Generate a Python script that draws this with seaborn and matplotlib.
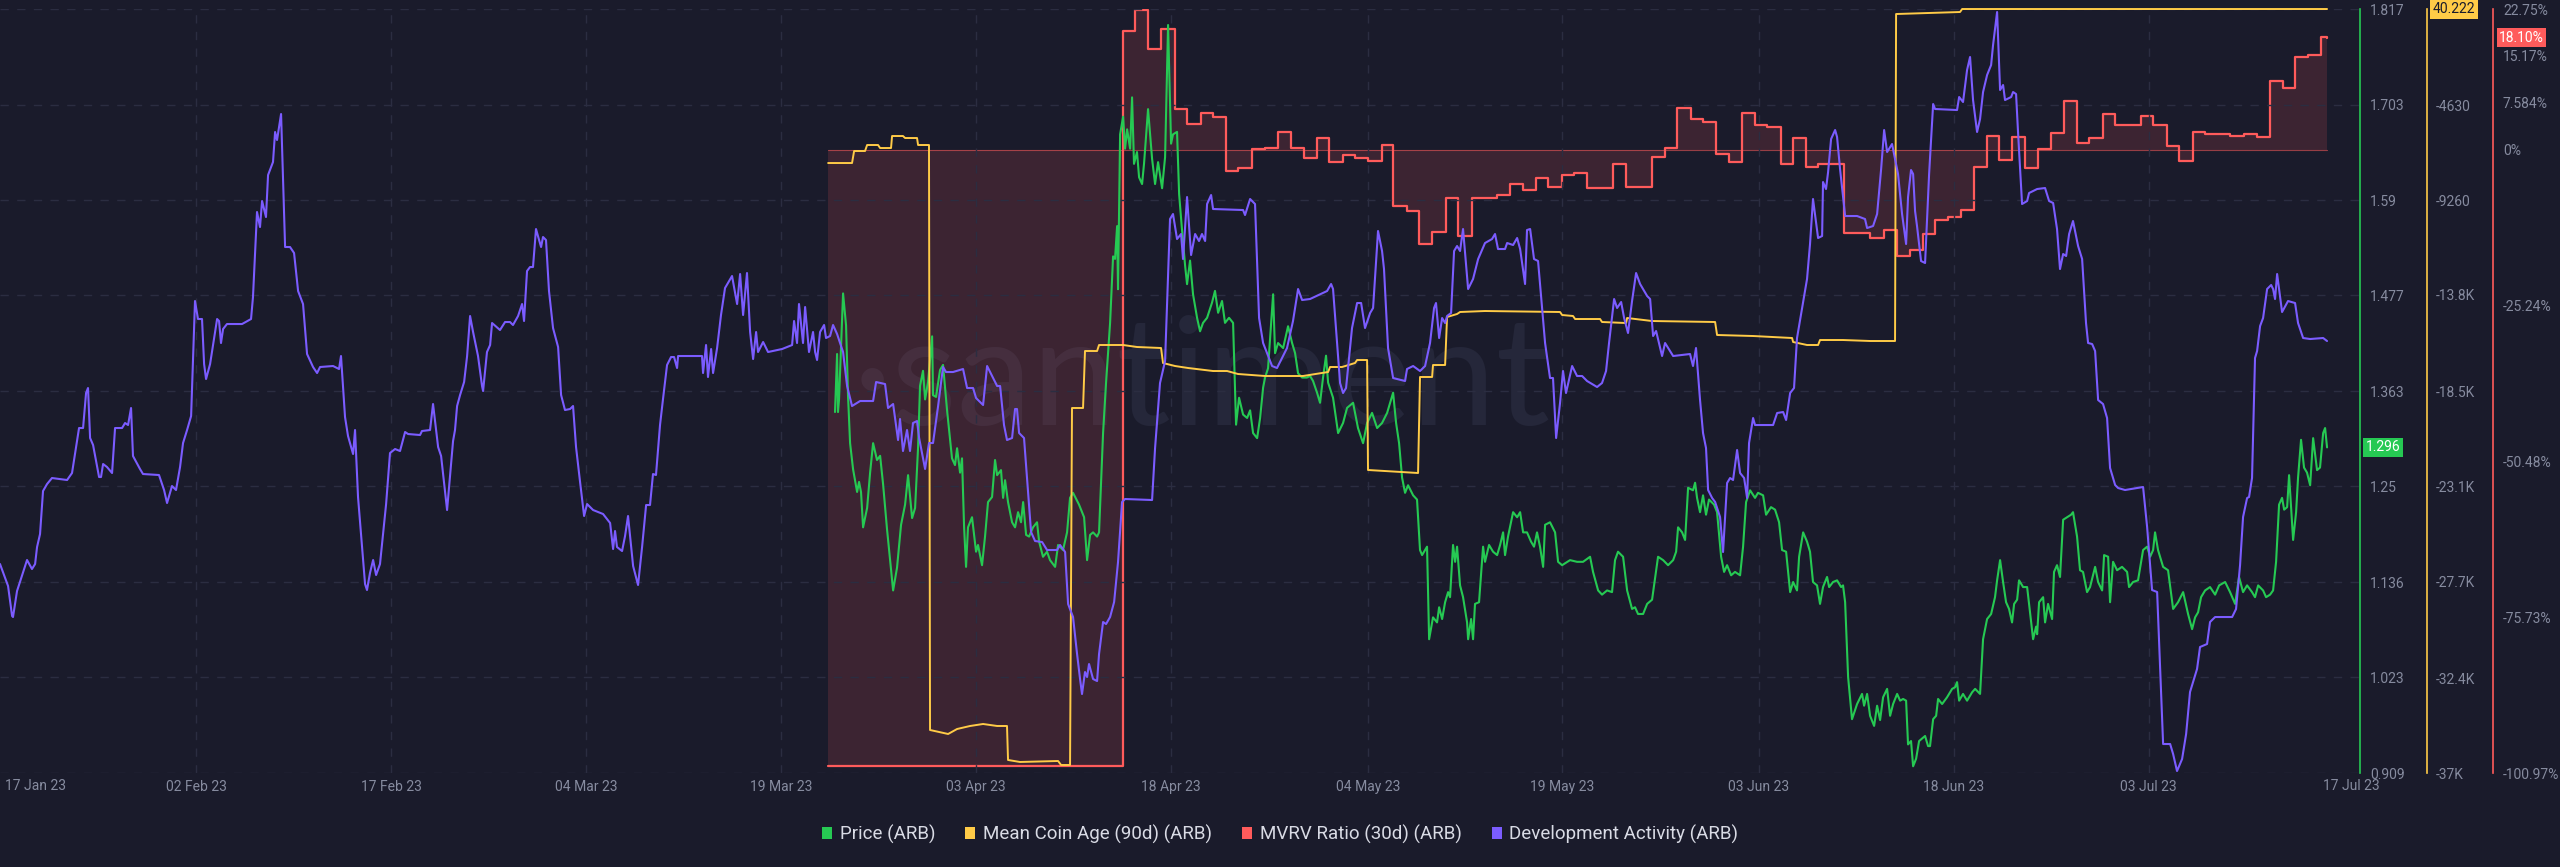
import pandas as pd
import numpy as np
import matplotlib
matplotlib.use('Agg')
import matplotlib.pyplot as plt
import matplotlib.dates as mdates
from matplotlib.patches import Patch
import seaborn as sns

# day offsets are days after 17 Jan 2023
start = pd.Timestamp('2023-01-17')

# Development Activity (ARB)
dev_pts = [
    (0.92, 20.9), (1.54, 18.7), (1.85, 15.7), (1.92, 15.6), (2.23, 18.2), (3.0, 21.3), (3.38, 20.4),
    (3.62, 20.9), (3.77, 22.6), (4.0, 23.9), (4.23, 28.2), (4.54, 28.9), (4.92, 29.5), (6.08, 29.3),
    (6.46, 30.0), (7.0, 34.5), (7.31, 34.5), (7.54, 38.0), (7.69, 38.5), (7.85, 33.5), (8.08, 32.8),
    (8.54, 29.6), (8.69, 29.6), (8.85, 30.9), (9.15, 30.6), (9.54, 30.0), (9.77, 34.5), (10.31, 34.5),
    (10.54, 35.0), (10.77, 34.8), (11.0, 36.5), (11.15, 31.7), (11.69, 30.4), (11.92, 29.9), (13.15, 29.8),
    (13.54, 28.3), (13.77, 27.0), (14.15, 28.7), (14.46, 28.3), (14.77, 30.6), (15.0, 33.0), (15.31, 34.3),
    (15.62, 35.7), (15.92, 47.2), (16.15, 45.4), (16.46, 45.4), (16.62, 40.9), (16.77, 39.4), (17.08, 40.9),
    (17.62, 45.4), (17.77, 45.2), (17.92, 43.0), (18.08, 44.4), (18.38, 44.9), (19.54, 44.9), (20.23, 45.4),
    (20.38, 47.6), (20.69, 56.1), (20.92, 54.6), (21.08, 57.2), (21.38, 55.6), (21.54, 59.8), (21.92, 61.1),
    (22.08, 64.1), (22.23, 63.3), (22.54, 65.9), (22.85, 52.6), (23.23, 52.6), (23.54, 52.0), (23.85, 48.2),
    (24.23, 46.9), (24.54, 41.9), (25.0, 40.6), (25.31, 40.0), (25.54, 40.6), (26.54, 40.7), (27.0, 40.4),
    (27.15, 41.7), (27.46, 35.6), (27.69, 33.7), (28.08, 31.9), (28.23, 34.3), (28.46, 27.6), (29.0, 18.9),
    (29.15, 18.3), (29.38, 20.0), (29.62, 21.3), (29.85, 19.8), (30.15, 20.9), (30.62, 26.9), (30.92, 32.0),
    (31.31, 32.4), (31.69, 32.2), (32.08, 34.1), (32.31, 33.9), (33.23, 33.8), (33.38, 34.2), (34.0, 34.3),
    (34.23, 36.9), (34.62, 32.6), (34.85, 31.7), (35.31, 26.3), (35.77, 33.2), (35.92, 34.3), (36.08, 36.7),
    (36.31, 37.8), (36.62, 39.1), (36.85, 41.7), (37.08, 45.7), (37.31, 44.1), (37.69, 41.7), (38.0, 38.7),
    (38.08, 38.2), (38.38, 42.1), (38.62, 42.8), (38.77, 45.0), (39.38, 44.3), (39.77, 45.1), (40.15, 45.1),
    (40.38, 44.8), (40.77, 45.7), (41.08, 46.9), (41.23, 45.2), (41.46, 50.2), (41.69, 50.6), (41.92, 50.6),
    (42.15, 54.4), (42.54, 52.6), (42.69, 53.6), (42.92, 53.3), (43.15, 48.2), (43.46, 44.5), (43.85, 42.6),
    (44.08, 37.8), (44.38, 36.3), (44.77, 36.4), (45.0, 36.7), (45.23, 32.6), (45.54, 29.1), (45.85, 25.7),
    (46.08, 26.9), (46.54, 26.3), (47.31, 25.9), (47.85, 25.0), (48.08, 22.4), (48.23, 24.2), (48.38, 22.6),
    (48.77, 22.2), (49.0, 23.7), (49.23, 25.7), (49.62, 20.7), (50.0, 18.8), (50.31, 22.6), (50.62, 26.8),
    (50.92, 26.8), (51.15, 29.9), (51.38, 29.8), (51.69, 34.8), (51.92, 37.4), (52.23, 40.8), (52.54, 41.6),
    (52.77, 41.6), (53.0, 40.5), (53.08, 41.7), (54.92, 41.7), (55.0, 40.0), (55.23, 42.8), (55.38, 39.6),
    (55.62, 42.4), (55.77, 40.0), (56.08, 42.5), (56.38, 45.8), (56.69, 48.5), (57.23, 49.7), (57.62, 46.9),
    (57.85, 49.9), (58.08, 45.8), (58.38, 50.0), (58.62, 44.1), (58.85, 41.4), (59.08, 44.1), (59.23, 42.1),
    (59.62, 43.1), (60.0, 42.1), (61.08, 42.4), (61.85, 42.8), (62.0, 45.2), (62.23, 43.0), (62.38, 46.9),
    (62.69, 43.0), (62.85, 46.6), (63.15, 42.1), (63.46, 44.1), (63.62, 42.1), (63.77, 41.3), (64.0, 44.1),
    (64.31, 44.8), (64.46, 43.5), (64.77, 43.7), (65.0, 44.8), (65.31, 43.9), (65.77, 42.1), (66.08, 38.7),
    (66.46, 36.7), (67.08, 37.2), (68.08, 37.2), (68.31, 39.1), (69.0, 38.9), (69.23, 36.5), (69.62, 36.9),
    (70.0, 33.3), (70.15, 35.4), (70.38, 32.2), (70.69, 34.3), (70.92, 32.2), (71.15, 35.0), (71.46, 35.2),
    (71.62, 33.5), (72.08, 30.4), (72.38, 33.0), (72.69, 33.0), (73.08, 36.7), (73.46, 40.6), (73.69, 40.1),
    (74.23, 40.1), (75.0, 40.4), (75.31, 38.5), (75.77, 38.5), (76.0, 37.5), (76.54, 36.8), (76.85, 40.7),
    (77.31, 39.5), (77.62, 38.7), (77.85, 38.7), (78.15, 34.8), (78.38, 33.3), (78.77, 33.5), (79.0, 36.4),
    (79.15, 36.4), (79.31, 34.0), (79.69, 33.5), (79.92, 29.5), (80.23, 24.1), (80.54, 23.2), (81.08, 23.1),
    (81.46, 22.3), (82.23, 22.3), (82.46, 22.8), (82.85, 22.1), (83.08, 16.9), (83.46, 15.6), (83.77, 11.9),
    (84.0, 9.4), (84.15, 7.9), (84.38, 10.1), (84.54, 9.6), (84.69, 10.9), (85.0, 9.4), (85.31, 9.2),
    (85.46, 11.9), (85.77, 15.1), (86.0, 14.9), (86.31, 15.6), (86.62, 17.1), (86.92, 21.1), (87.23, 27.1),
    (87.46, 27.4), (89.54, 27.3), (89.77, 32.5), (90.15, 39.0), (90.54, 41.2), (90.92, 55.4), (91.15, 55.9),
    (91.46, 53.4), (91.77, 53.9), (91.92, 51.4), (92.23, 57.6), (92.54, 51.8), (92.85, 53.9), (93.15, 53.2),
    (93.38, 53.9), (93.62, 53.2), (93.77, 56.9), (94.08, 57.8), (94.23, 56.4), (96.54, 56.3), (96.69, 55.8),
    (97.08, 57.4), (97.46, 56.9), (97.77, 45.5), (98.08, 43.0), (98.77, 40.7), (99.15, 40.5), (99.92, 42.5),
    (100.38, 45.2), (100.77, 48.4), (101.08, 47.3), (101.69, 47.4), (103.0, 48.2), (103.31, 48.9),
    (103.46, 48.4), (104.0, 39.0), (104.23, 38.0), (104.46, 38.5), (104.92, 44.5), (105.31, 47.0),
    (105.62, 47.0), (105.92, 44.5), (106.31, 46.0), (106.54, 46.5), (106.92, 54.2), (107.23, 52.2),
    (107.38, 50.4), (107.69, 42.5), (108.08, 39.5), (109.0, 39.2), (109.15, 40.4), (109.62, 40.7),
    (110.15, 40.2), (110.54, 40.7), (110.92, 43.0), (111.23, 46.5), (111.38, 47.0), (111.62, 43.5),
    (111.85, 45.5), (112.08, 45.0), (112.23, 45.7), (112.54, 46.0), (112.77, 52.2), (113.0, 52.7),
    (113.23, 52.2), (113.46, 54.4), (113.85, 48.4), (114.23, 49.4), (114.62, 51.4), (115.15, 53.0),
    (115.69, 53.4), (115.92, 53.9), (116.15, 52.4), (116.69, 52.4), (116.85, 53.0), (117.31, 52.8),
    (117.62, 53.5), (117.85, 52.4), (118.23, 48.9), (118.38, 54.3), (118.62, 54.4), (118.92, 51.4),
    (119.23, 51.2), (119.77, 43.0), (120.15, 39.5), (120.38, 39.5), (120.62, 33.5), (120.92, 37.0),
    (121.15, 40.2), (121.38, 38.0), (121.85, 40.7), (122.23, 39.7), (122.62, 39.7), (123.0, 39.2),
    (123.77, 38.6), (124.15, 39.0), (124.46, 40.2), (124.69, 43.0), (125.08, 47.4), (125.31, 46.5),
    (125.62, 47.1), (125.85, 45.5), (126.15, 44.0), (126.46, 47.2), (126.77, 50.0), (127.08, 48.9),
    (127.62, 47.7), (127.85, 47.4), (128.08, 43.7), (128.31, 44.2), (128.77, 41.7), (129.0, 43.0),
    (129.62, 41.7), (130.92, 41.9), (131.15, 40.7), (131.38, 42.5), (131.69, 37.3), (131.92, 34.0),
    (132.15, 32.5), (132.31, 28.3), (132.62, 27.5), (132.85, 27.1), (133.23, 25.6), (133.46, 22.1),
    (133.77, 29.0), (134.0, 29.5), (134.23, 29.3), (134.54, 32.3), (134.77, 30.0), (135.08, 29.5),
    (135.31, 27.5), (135.46, 33.0), (135.77, 35.5), (135.92, 34.8), (137.31, 34.8), (137.62, 36.0),
    (138.08, 36.1), (138.31, 35.3), (138.62, 38.0), (138.92, 38.5), (139.15, 43.5), (139.54, 46.5),
    (139.92, 49.4), (140.15, 52.9), (140.38, 57.4), (140.77, 53.5), (141.08, 53.7), (141.15, 59.1),
    (141.38, 58.4), (141.54, 60.1), (141.77, 63.4), (142.08, 64.3), (142.23, 63.6), (142.46, 60.4),
    (142.85, 55.7), (143.77, 55.7), (144.38, 55.4), (144.54, 54.5), (145.0, 54.7), (145.31, 55.9),
    (145.62, 60.4), (145.85, 64.3), (146.08, 62.1), (146.46, 62.9), (146.69, 61.4), (146.92, 59.9),
    (147.23, 55.9), (147.54, 52.9), (147.69, 57.6), (147.92, 60.3), (148.08, 59.9), (148.23, 56.2),
    (148.38, 54.7), (148.69, 51.2), (149.0, 51.0), (149.31, 59.9), (149.62, 66.9), (149.77, 66.4),
    (151.46, 66.3), (151.62, 67.6), (151.92, 67.1), (152.23, 70.3), (152.46, 71.6), (152.69, 67.3),
    (153.0, 64.1), (153.23, 65.4), (153.46, 68.1), (153.77, 69.8), (154.08, 70.8), (154.23, 72.8),
    (154.54, 76.1), (154.77, 68.3), (155.0, 68.8), (155.15, 67.3), (155.62, 67.6), (155.77, 68.1),
    (156.0, 67.9), (156.15, 64.1), (156.46, 56.9), (156.85, 57.2), (157.0, 58.0), (157.62, 58.4),
    (158.23, 58.5), (158.54, 57.2), (158.85, 57.0), (159.15, 54.4), (159.38, 50.4), (159.62, 51.9),
    (159.85, 51.7), (160.08, 53.9), (160.38, 55.2), (160.77, 52.7), (161.08, 51.4), (161.38, 45.0),
    (161.54, 43.0), (161.85, 42.9), (162.08, 42.2), (162.31, 37.3), (162.69, 36.9), (163.0, 35.5),
    (163.23, 30.5), (163.62, 28.8), (163.85, 28.5), (164.38, 28.3), (165.77, 28.6), (166.08, 24.6),
    (166.46, 18.3), (166.85, 18.1), (167.31, 2.9), (167.85, 2.9), (168.08, 1.9), (168.38, 0.2),
    (168.77, 1.4), (169.08, 3.9), (169.38, 8.1), (169.92, 10.4), (170.15, 12.6), (170.69, 12.9),
    (170.92, 15.1), (171.31, 15.6), (172.62, 15.6), (172.92, 16.4), (173.23, 20.8), (173.46, 25.6),
    (173.77, 27.5), (173.92, 27.6), (174.15, 29.5), (174.38, 41.5), (174.54, 42.2), (174.77, 44.7),
    (175.0, 45.5), (175.31, 48.4), (175.62, 48.8), (175.77, 48.4), (175.92, 47.4), (176.08, 49.9),
    (176.46, 46.1), (176.92, 47.2), (177.46, 47.0), (177.69, 45.0), (178.08, 43.5), (178.62, 43.4),
    (179.62, 43.5), (179.92, 43.2),
]

# Price (ARB)
price_pts = [
    (65.15, 1.338), (65.31, 1.407), (65.38, 1.338), (65.46, 1.353), (65.77, 1.479), (66.0, 1.441),
    (66.15, 1.358), (66.31, 1.301), (66.54, 1.270), (66.85, 1.243), (67.0, 1.255), (67.15, 1.243),
    (67.31, 1.201), (67.62, 1.224), (67.85, 1.266), (68.08, 1.301), (68.38, 1.281), (68.62, 1.286),
    (68.85, 1.252), (69.15, 1.199), (69.62, 1.126), (69.92, 1.153), (70.23, 1.204), (70.54, 1.228),
    (70.77, 1.263), (71.08, 1.212), (71.31, 1.224), (71.54, 1.296), (71.69, 1.369), (71.92, 1.387),
    (72.08, 1.353), (72.31, 1.374), (72.62, 1.428), (72.69, 1.358), (72.92, 1.356), (73.23, 1.388),
    (73.46, 1.394), (73.77, 1.340), (74.15, 1.283), (74.38, 1.275), (74.54, 1.295), (74.77, 1.266),
    (74.92, 1.283), (75.08, 1.201), (75.23, 1.154), (75.38, 1.201), (75.69, 1.213), (76.0, 1.172),
    (76.15, 1.180), (76.46, 1.156), (76.69, 1.190), (76.92, 1.231), (77.23, 1.237), (77.46, 1.281),
    (77.62, 1.263), (77.92, 1.269), (78.08, 1.236), (78.23, 1.257), (78.46, 1.231), (78.77, 1.207),
    (79.0, 1.201), (79.23, 1.219), (79.46, 1.207), (79.62, 1.231), (79.85, 1.192), (80.08, 1.190),
    (80.38, 1.201), (80.69, 1.207), (80.85, 1.184), (81.15, 1.166), (81.46, 1.172), (81.69, 1.162),
    (82.08, 1.154), (82.31, 1.180), (82.69, 1.174), (83.0, 1.195), (83.23, 1.236), (83.46, 1.242),
    (83.92, 1.228), (84.31, 1.213), (84.54, 1.162), (84.77, 1.192), (85.0, 1.195), (85.31, 1.190),
    (85.46, 1.195), (85.77, 1.313), (86.0, 1.373), (86.31, 1.444), (86.54, 1.523), (86.69, 1.520),
    (86.85, 1.559), (86.92, 1.484), (87.08, 1.668), (87.31, 1.689), (87.46, 1.651), (87.62, 1.674),
    (87.85, 1.651), (88.0, 1.712), (88.15, 1.633), (88.38, 1.647), (88.54, 1.617), (88.77, 1.609),
    (88.92, 1.633), (89.23, 1.698), (89.54, 1.639), (89.77, 1.609), (90.0, 1.635), (90.31, 1.604),
    (90.54, 1.641), (90.77, 1.798), (91.0, 1.657), (91.15, 1.668), (91.46, 1.671), (91.62, 1.597),
    (91.85, 1.553), (92.08, 1.512), (92.23, 1.490), (92.46, 1.518), (92.69, 1.478), (93.0, 1.450),
    (93.23, 1.434), (93.46, 1.444), (93.77, 1.450), (94.15, 1.468), (94.38, 1.482), (94.62, 1.456),
    (94.92, 1.470), (95.15, 1.444), (95.46, 1.450), (95.77, 1.444), (96.0, 1.323), (96.23, 1.355),
    (96.54, 1.335), (96.85, 1.331), (97.08, 1.340), (97.31, 1.313), (97.62, 1.307), (97.85, 1.331),
    (98.08, 1.367), (98.23, 1.379), (98.46, 1.390), (98.85, 1.478), (99.0, 1.408), (99.23, 1.420),
    (99.62, 1.414), (100.0, 1.440), (100.31, 1.420), (100.54, 1.408), (100.77, 1.384), (101.08, 1.379),
    (101.46, 1.379), (101.69, 1.381), (101.92, 1.375), (102.23, 1.361), (102.46, 1.349), (102.69, 1.379),
    (102.92, 1.405), (103.08, 1.373), (103.46, 1.355), (103.85, 1.313), (104.23, 1.325), (104.54, 1.343),
    (105.0, 1.349), (105.38, 1.319), (105.77, 1.301), (106.08, 1.325), (106.46, 1.337), (106.85, 1.319),
    (107.23, 1.325), (107.62, 1.337), (108.08, 1.361), (108.31, 1.325), (108.54, 1.301), (108.77, 1.260),
    (109.0, 1.242), (109.23, 1.251), (109.62, 1.239), (109.92, 1.234), (110.15, 1.174), (110.31, 1.168),
    (110.69, 1.178), (110.85, 1.068), (111.15, 1.094), (111.46, 1.088), (111.62, 1.106), (111.85, 1.092),
    (112.08, 1.112), (112.31, 1.124), (112.46, 1.118), (112.69, 1.180), (112.85, 1.160), (113.0, 1.178),
    (113.23, 1.132), (113.46, 1.118), (113.77, 1.088), (113.85, 1.068), (114.08, 1.092), (114.23, 1.068),
    (114.38, 1.110), (114.69, 1.112), (115.0, 1.178), (115.15, 1.160), (115.46, 1.180), (115.77, 1.172),
    (116.08, 1.168), (116.31, 1.180), (116.54, 1.195), (116.69, 1.168), (116.92, 1.190), (117.31, 1.219),
    (117.62, 1.213), (117.85, 1.219), (118.08, 1.195), (118.38, 1.195), (118.69, 1.184), (118.92, 1.178),
    (119.15, 1.195), (119.38, 1.178), (119.62, 1.154), (119.77, 1.204), (120.15, 1.207), (120.54, 1.195),
    (120.77, 1.160), (121.08, 1.156), (121.69, 1.162), (122.23, 1.160), (122.69, 1.160), (123.23, 1.166),
    (123.46, 1.148), (123.85, 1.126), (124.15, 1.121), (124.54, 1.126), (124.92, 1.124), (125.15, 1.162),
    (125.38, 1.172), (125.77, 1.166), (126.08, 1.126), (126.46, 1.104), (126.69, 1.106), (126.92, 1.098),
    (127.31, 1.098), (127.62, 1.110), (128.0, 1.115), (128.46, 1.166), (128.85, 1.162), (129.23, 1.156),
    (129.62, 1.162), (129.85, 1.172), (130.0, 1.201), (130.31, 1.195), (130.54, 1.186), (130.77, 1.248),
    (131.15, 1.245), (131.31, 1.254), (131.46, 1.236), (131.69, 1.219), (131.92, 1.239), (132.15, 1.216),
    (132.38, 1.234), (132.77, 1.228), (133.0, 1.219), (133.31, 1.166), (133.54, 1.148), (133.77, 1.156),
    (134.08, 1.144), (134.38, 1.148), (134.77, 1.144), (135.0, 1.178), (135.23, 1.231), (135.54, 1.245),
    (135.92, 1.236), (136.15, 1.242), (136.54, 1.239), (136.77, 1.216), (137.15, 1.225), (137.46, 1.222),
    (137.77, 1.207), (138.0, 1.174), (138.31, 1.172), (138.62, 1.124), (138.85, 1.136), (139.15, 1.126),
    (139.31, 1.166), (139.62, 1.195), (139.92, 1.184), (140.15, 1.172), (140.38, 1.136), (140.69, 1.132),
    (140.92, 1.110), (141.15, 1.130), (141.46, 1.142), (141.62, 1.130), (141.92, 1.136), (142.23, 1.138),
    (142.54, 1.130), (142.69, 1.132), (142.85, 1.112), (143.08, 1.023), (143.38, 0.973), (143.77, 0.991),
    (144.15, 1.003), (144.31, 0.989), (144.54, 1.003), (144.77, 0.977), (145.08, 0.965), (145.31, 0.989),
    (145.54, 0.972), (145.77, 0.999), (146.08, 1.009), (146.31, 0.977), (146.54, 0.991), (146.85, 1.003),
    (147.08, 0.995), (147.31, 0.997), (147.54, 0.995), (147.69, 0.943), (147.92, 0.947), (148.08, 0.917),
    (148.31, 0.926), (148.54, 0.947), (149.0, 0.953), (149.23, 0.941), (149.38, 0.941), (149.62, 0.973),
    (149.85, 0.977), (150.0, 0.997), (150.31, 0.991), (150.69, 0.999), (151.08, 1.009), (151.31, 1.011),
    (151.46, 1.017), (151.62, 0.995), (151.92, 1.003), (152.23, 0.995), (152.62, 1.005), (152.85, 1.009),
    (153.23, 1.003), (153.46, 1.068), (153.77, 1.092), (154.08, 1.098), (154.38, 1.118), (154.54, 1.138),
    (154.77, 1.162), (155.0, 1.136), (155.23, 1.112), (155.46, 1.104), (155.69, 1.088), (155.85, 1.110),
    (156.08, 1.115), (156.23, 1.138), (156.54, 1.130), (156.85, 1.130), (157.0, 1.110), (157.31, 1.068),
    (157.54, 1.083), (157.62, 1.074), (157.77, 1.112), (158.08, 1.118), (158.23, 1.088), (158.46, 1.110),
    (158.77, 1.092), (158.92, 1.148), (159.15, 1.156), (159.38, 1.142), (159.62, 1.210), (159.92, 1.213),
    (160.23, 1.216), (160.38, 1.219), (160.69, 1.190), (160.92, 1.150), (161.15, 1.148), (161.46, 1.124),
    (161.69, 1.130), (162.08, 1.154), (162.31, 1.136), (162.62, 1.126), (162.77, 1.168), (163.08, 1.166),
    (163.23, 1.112), (163.46, 1.160), (163.77, 1.150), (164.15, 1.154), (164.54, 1.148), (164.69, 1.130),
    (165.0, 1.136), (165.38, 1.138), (165.77, 1.174), (166.08, 1.178), (166.31, 1.166), (166.54, 1.174),
    (166.69, 1.195), (166.92, 1.174), (167.31, 1.154), (167.69, 1.150), (168.08, 1.104), (168.46, 1.112),
    (168.85, 1.124), (169.23, 1.098), (169.54, 1.080), (169.77, 1.094), (170.0, 1.100), (170.23, 1.118),
    (170.54, 1.126), (170.92, 1.130), (171.31, 1.121), (171.62, 1.132), (172.08, 1.136), (172.46, 1.124),
    (172.85, 1.110), (173.15, 1.142), (173.46, 1.124), (173.77, 1.132), (174.15, 1.124), (174.38, 1.118),
    (174.62, 1.132), (175.0, 1.126), (175.23, 1.118), (175.54, 1.121), (175.77, 1.126), (176.0, 1.160),
    (176.23, 1.228), (176.46, 1.236), (176.62, 1.222), (176.85, 1.225), (177.0, 1.263), (177.31, 1.186),
    (177.54, 1.219), (177.69, 1.260), (177.92, 1.305), (178.15, 1.272), (178.38, 1.266), (178.62, 1.251),
    (178.85, 1.307), (179.15, 1.269), (179.38, 1.272), (179.62, 1.313), (179.77, 1.319), (179.92, 1.296),
]

# MVRV Ratio (30d) (ARB), percent, daily steps
mvrv_day = [64.62, 87.31, 88.23, 89.23, 90.23, 91.31, 92.23, 93.31, 94.23, 95.23,
            96.15, 97.23, 98.23, 99.23, 100.23, 101.23, 102.23, 103.15, 104.23, 105.15,
            106.15, 107.23, 108.08, 109.15, 110.08, 111.08, 112.15, 113.08, 114.15, 116.08,
            117.08, 118.08, 119.08, 120.0, 121.08, 122.0, 123.0, 125.0, 126.0, 128.0,
            129.0, 129.92, 131.0, 131.92, 132.92, 133.92, 134.92, 135.92, 136.85, 137.92,
            138.85, 139.85, 140.77, 142.77, 144.77, 145.85, 146.85, 147.85, 148.85, 149.77,
            150.77, 151.77, 152.77, 153.77, 154.69, 155.69, 156.69, 157.69, 158.69, 159.69,
            160.69, 161.62, 162.69, 163.62, 165.62, 166.54, 167.62, 168.54, 169.62, 170.54,
            172.46, 173.54, 174.54, 175.54, 176.54, 177.46, 178.46, 179.46, 179.92]
mvrv_val = [-99.84, 19.19, 22.59, 16.27, 19.51, 6.56, 4.13, 5.91, 5.26, -3.48,
            -2.99, 0.08, 0.24, 2.83, 0.24, -1.38, 1.86, -2.03, -0.89, -1.38,
            -1.86, 0.73, -9.15, -9.96, -15.31, -13.36, -7.86, -14.01, -7.86, -7.37,
            -5.59, -6.56, -4.62, -6.08, -4.13, -3.81, -6.24, -2.35, -6.08, -1.22,
            0.24, 6.72, 4.94, 4.45, -0.73, -2.03, 5.91, 3.97, 3.64, -2.35,
            1.86, -2.84, -2.35, -13.52, -14.33, -13.04, -17.25, -16.28, -13.69, -11.42,
            -10.93, -9.80, -2.84, 2.18, -1.70, 2.02, -2.99, 0.08, 2.67, 7.85,
            1.05, 1.86, 5.75, 3.97, 5.42, 3.97, 0.57, -1.86, 2.83, 2.51,
            2.18, 2.51, 2.02, 11.09, 9.96, 14.98, 15.30, 18.22, 18.10]

# Mean Coin Age (90d) (ARB)
age_day = [64.62, 66.46, 66.62, 67.46, 67.62, 68.46, 68.62, 69.46, 69.54, 70.38,
           70.54, 71.46, 71.54, 72.38, 72.46, 73.85, 74.54, 75.54, 76.54, 77.62,
           78.38, 78.46, 79.38, 82.31, 82.54, 83.23, 83.38, 84.23, 84.38, 85.31,
           85.46, 87.31, 88.38, 90.23, 90.38, 91.31, 92.31, 94.23, 95.31, 96.15,
           98.23, 101.15, 103.08, 103.23, 104.15, 105.15, 105.31, 106.08, 106.15, 110.0,
           110.15, 111.08, 111.15, 112.08, 112.23, 113.0, 113.23, 115.15, 120.92, 121.08,
           121.92, 122.08, 124.0, 124.15, 126.0, 126.08, 128.0, 132.85, 133.0, 135.77,
           138.77, 138.85, 139.92, 140.77, 140.92, 142.69, 144.77, 146.69, 146.77, 151.69,
           151.85, 179.92]
age_val = [-7426, -7426, -6844, -6844, -6553, -6553, -6699, -6699, -6117, -6117,
           -6214, -6214, -6553, -6553, -34914, -35108, -34866, -34720, -34623, -34720,
           -34720, -36368, -36465, -36417, -36611, -36611, -19303, -19303, -16540, -16540,
           -16249, -16249, -16346, -16395, -17122, -17268, -17364, -17510, -17510, -17655,
           -17752, -17752, -17558, -17316, -17316, -17122, -16976, -16976, -22309, -22455,
           -17800, -17800, -17219, -17219, -14892, -14746, -14649, -14601, -14649, -14795,
           -14843, -14989, -14989, -15134, -15183, -14940, -15086, -15134, -15764, -15813,
           -15910, -16104, -16249, -16249, -16007, -16007, -16055, -16055, -202, -105,
           40.222, 40.222]

# axis ticks and labels
tick_day = [16, 31, 46, 61, 76, 91, 106.15, 121.1, 136.2, 151.2, 166.2]
tick_labels = ['02 Feb 23', '17 Feb 23', '04 Mar 23', '19 Mar 23', '03 Apr 23', '18 Apr 23',
               '04 May 23', '19 May 23', '03 Jun 23', '18 Jun 23', '03 Jul 23']
first_label, last_label, last_label_day = '17 Jan 23', '17 Jul 23', 181.8
price_ticks = [0.909, 1.023, 1.136, 1.25, 1.363, 1.477, 1.59, 1.703, 1.817]
price_tick_labels = ['0.909', '1.023', '1.136', '1.25', '1.363', '1.477', '1.59', '1.703', '1.817']
age_ticks = [-37000, -32400, -27700, -23100, -18500, -13800, -9260, -4630]
age_tick_labels = ['-37K', '-32.4K', '-27.7K', '-23.1K', '-18.5K', '-13.8K', '-9260', '-4630']
mvrv_ticks = [-100.97, -75.73, -50.48, -25.24, 0, 7.584, 15.17, 22.75]
mvrv_tick_labels = ['-100.97%', '-75.73%', '-50.48%', '-25.24%', '0%', '7.584%', '15.17%', '22.75%']
last_price, last_age, last_mvrv = 1.296, 40.222, 18.10

BG = '#1a1b2b'
GREEN = '#26c953'
YELLOW = '#ffcb47'
RED = '#ff5b5b'
PURPLE = '#7b5cff'
GRID = '#2b2d41'
TEXT = '#868b9f'

sns.set_style('dark')
plt.rcParams['font.family'] = ['Roboto', 'DejaVu Sans']


def to_df(days, vals):
    return pd.DataFrame({'date': start + pd.to_timedelta(np.asarray(days, dtype=float), unit='D'),
                         'value': vals})


dev_df = to_df([p[0] for p in dev_pts], [p[1] for p in dev_pts])
price_df = to_df([p[0] for p in price_pts], [p[1] for p in price_pts])
mvrv_df = to_df(mvrv_day, mvrv_val)
age_df = to_df(age_day, age_val)

fig = plt.figure(figsize=(25.6, 8.67), dpi=100, facecolor=BG)
ax = fig.add_axes([0, 0.1084, 0.9219, 0.8812])
ax_mvrv = ax.twinx()
ax_age = ax.twinx()
ax_dev = ax.twinx()

# stacking: MVRV fill at the back, then price (with grid), coin age, dev activity
ax_mvrv.set_zorder(1)
ax.set_zorder(2)
ax_age.set_zorder(3)
ax_dev.set_zorder(4)
for a in (ax, ax_mvrv, ax_age, ax_dev):
    a.patch.set_visible(False)
    for s in ('left', 'top', 'bottom'):
        a.spines[s].set_visible(False)

# MVRV: fill against the zero line + step line
ax_mvrv.fill_between(mvrv_df['date'], mvrv_df['value'], 0, step='post',
                     color=RED, alpha=0.15, linewidth=0)
ax_mvrv.plot([mvrv_df['date'].iloc[0], mvrv_df['date'].iloc[-1]], [0, 0],
             color=RED, alpha=0.55, linewidth=0.8)
sns.lineplot(data=mvrv_df, x='date', y='value', ax=ax_mvrv, color=RED, linewidth=1.6,
             drawstyle='steps-post', estimator=None, sort=False)

sns.lineplot(data=age_df, x='date', y='value', ax=ax_age, color=YELLOW, linewidth=1.4,
             estimator=None, sort=False)
ax_age.lines[-1].set_clip_on(False)
sns.lineplot(data=price_df, x='date', y='value', ax=ax, color=GREEN, linewidth=1.5,
             estimator=None, sort=False)
sns.lineplot(data=dev_df, x='date', y='value', ax=ax_dev, color=PURPLE, linewidth=1.5,
             estimator=None, sort=False)

for a in (ax, ax_mvrv, ax_age, ax_dev):
    a.set_xlabel('')
    a.set_ylabel('')

ax.set_xlim(start + pd.Timedelta(days=0.92), start + pd.Timedelta(days=182.46))
ax.set_xticks(mdates.date2num(start + pd.to_timedelta(tick_day, unit='D')))
ax.set_xticklabels(tick_labels)
ax.tick_params(axis='x', length=0, pad=5, labelsize=10, labelcolor=TEXT)
ax.text(0.002, -0.008, first_label, transform=ax.transAxes, ha='left', va='top',
        fontsize=10, color=TEXT)
ax.text(mdates.date2num(start + pd.Timedelta(days=last_label_day)), -0.008, last_label,
        transform=ax.get_xaxis_transform(), ha='center', va='top', fontsize=10, color=TEXT)

# price axis (green spine at plot edge)
ax.yaxis.tick_right()
ax.set_ylim(price_ticks[0], price_ticks[-1])
ax.set_yticks(price_ticks)
ax.set_yticklabels(price_tick_labels)
ax.spines['right'].set_color(GREEN)
ax.spines['right'].set_linewidth(1.2)
ax.tick_params(axis='y', length=0, pad=7, labelsize=10, labelcolor=TEXT)
ax.grid(True, color=GRID, linestyle=(0, (6, 6)), linewidth=1)

ax_age.set_ylim(-37000, last_age)
ax_age.set_yticks(age_ticks)
ax_age.set_yticklabels(age_tick_labels)
ax_age.spines['right'].set_position(('axes', 1.0284))
ax_age.spines['right'].set_color(YELLOW)
ax_age.spines['right'].set_linewidth(1.2)
ax_age.tick_params(axis='y', length=0, pad=6, labelsize=10, labelcolor=TEXT)

ax_mvrv.set_ylim(mvrv_ticks[0], mvrv_ticks[-1])
ax_mvrv.set_yticks(mvrv_ticks)
ax_mvrv.set_yticklabels(mvrv_tick_labels)
ax_mvrv.spines['right'].set_position(('axes', 1.0564))
ax_mvrv.spines['right'].set_color(RED)
ax_mvrv.spines['right'].set_linewidth(1.2)
ax_mvrv.tick_params(axis='y', length=0, pad=7, labelsize=10, labelcolor=TEXT)

ax_dev.set_ylim(0, 76.4)
ax_dev.set_yticks([])
ax_dev.spines['right'].set_visible(False)

# current value tags
ax.text(1.0025, last_price, f'{last_price:.3f}', transform=ax.get_yaxis_transform(),
        ha='left', va='center', fontsize=10, color='white', zorder=10,
        bbox=dict(boxstyle='square,pad=0.18', fc=GREEN, ec='none'))
ax_age.text(1.0309, last_age, f'{last_age:.3f}', transform=ax_age.get_yaxis_transform(),
            ha='left', va='center', fontsize=10, color=BG, zorder=10,
            bbox=dict(boxstyle='square,pad=0.18', fc=YELLOW, ec='none'))
ax_mvrv.text(1.0589, last_mvrv, f'{last_mvrv:.2f}%', transform=ax_mvrv.get_yaxis_transform(),
             ha='left', va='center', fontsize=10, color='white', zorder=10,
             bbox=dict(boxstyle='square,pad=0.18', fc=RED, ec='none'))

# watermark
fig.text(0.333, 0.510, '·santiment', ha='left', va='baseline', fontsize=109,
         color='#25273a', family=['Lato', 'DejaVu Sans'], zorder=0.5)

handles = [Patch(facecolor=GREEN, edgecolor='none', label='Price (ARB)'),
           Patch(facecolor=YELLOW, edgecolor='none', label='Mean Coin Age (90d) (ARB)'),
           Patch(facecolor=RED, edgecolor='none', label='MVRV Ratio (30d) (ARB)'),
           Patch(facecolor=PURPLE, edgecolor='none', label='Development Activity (ARB)')]
fig.legend(handles=handles, loc='center', bbox_to_anchor=(0.5, 0.038), ncol=4, frameon=False,
           fontsize=13.5, labelcolor='#d9dbe5', handlelength=0.55, handleheight=0.65,
           handletextpad=0.4, columnspacing=1.6)

plt.savefig('out.png', dpi=100, facecolor=BG)
